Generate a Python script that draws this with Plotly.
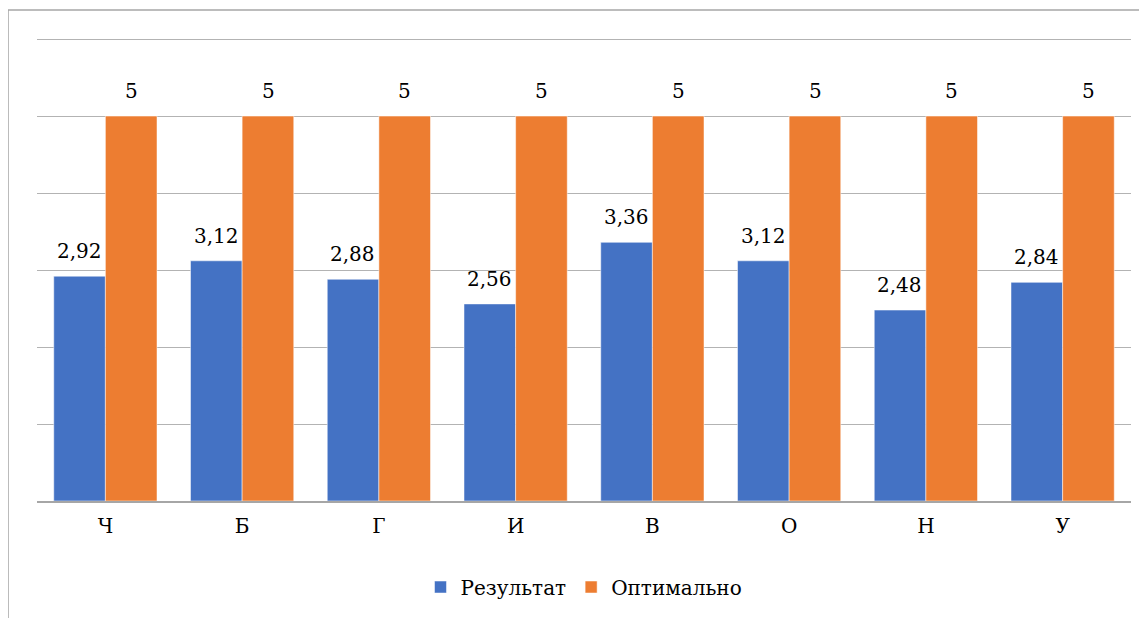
import plotly.graph_objects as go

categories = ["Ч", "Б", "Г", "И", "В", "О", "Н", "У"]
result = [2.92, 3.12, 2.88, 2.56, 3.36, 3.12, 2.48, 2.84]
optimal = [5, 5, 5, 5, 5, 5, 5, 5]

BLUE = "#4472C4"
ORANGE = "#ED7D31"
FONT = "DejaVu Serif"

fig = go.Figure()
fig.add_trace(go.Bar(name="Результат", x=categories, y=result, marker_color=BLUE,
                     marker_line=dict(color="white", width=0.5)))
fig.add_trace(go.Bar(name="Оптимально", x=categories, y=optimal, marker_color=ORANGE,
                     marker_line=dict(color="white", width=0.5)))

def fmt(v):
    s = ("%.2f" % v).rstrip("0").rstrip(".")
    return s.replace(".", ",")

annotations = []
for c, v in zip(categories, result):
    annotations.append(dict(x=c, y=v, xref="x", yref="y", text=fmt(v), showarrow=False,
                            yanchor="bottom", xshift=-26, yshift=11,
                            font=dict(family=FONT, size=20, color="black")))
for c, v in zip(categories, optimal):
    annotations.append(dict(x=c, y=v, xref="x", yref="y", text=fmt(v), showarrow=False,
                            yanchor="bottom", xshift=26, yshift=11,
                            font=dict(family=FONT, size=20, color="black")))

fig.update_layout(
    width=1139, height=610,
    barmode="group", bargap=0.245, bargroupgap=0,
    plot_bgcolor="white", paper_bgcolor="white",
    margin=dict(l=29, r=16, t=28, b=117),
    font=dict(family=FONT, size=20, color="black"),
    showlegend=True,
    legend=dict(orientation="h", x=0.5, xanchor="center", y=-0.185, yanchor="middle",
                font=dict(family=FONT, size=20, color="black"), itemwidth=30,
                traceorder="normal"),
    annotations=annotations,
    shapes=[dict(type="rect", xref="paper", yref="paper", x0=-0.0265, x1=1.2, y0=-0.5, y1=1.056,
                 line=dict(color="#a6a6a6", width=1.5), fillcolor="rgba(0,0,0,0)", layer="below")],
)
fig.update_xaxes(showline=True, linecolor="#a6a6a6", linewidth=2, ticks="",
                 ticklabelstandoff=6,
                 tickfont=dict(family=FONT, size=20, color="black"))
fig.update_yaxes(range=[0, 6.04], tickvals=[0, 1, 2, 3, 4, 5, 6], showticklabels=False, showgrid=True,
                 gridcolor="#b3b3b3", gridwidth=1, zeroline=False, showline=False)

fig.write_html("out.html")
